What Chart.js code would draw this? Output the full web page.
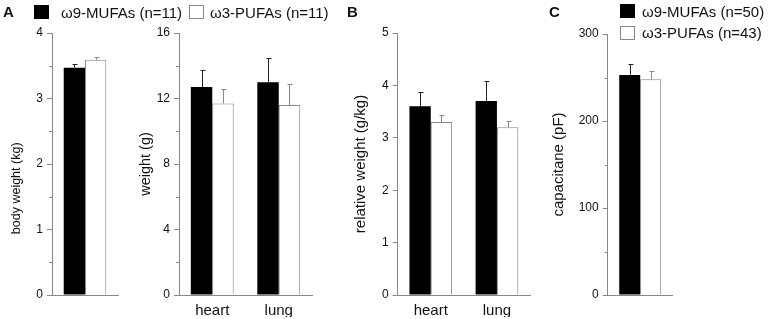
<!DOCTYPE html>
<html><head><meta charset="utf-8">
<script src="https://cdn.jsdelivr.net/npm/chart.js@4.4.0/dist/chart.umd.min.js"></script>
<style>
html,body{margin:0;padding:0;background:#fff;}
#wrap{position:relative;width:768px;height:319px;overflow:hidden;font-family:"Liberation Sans",Arial,Helvetica,sans-serif;color:#111;}
.pane{position:absolute;top:0;height:319px;}
.lbl{position:absolute;white-space:nowrap;font-size:15px;line-height:15px;}
.letter{position:absolute;font-weight:bold;font-size:15px;line-height:15px;}
.sw{position:absolute;width:15px;height:14px;box-sizing:border-box;}
</style></head><body>
<div id="wrap">
  <div class="pane" style="left:0;width:124px"><canvas id="cA1"></canvas></div>
  <div class="pane" style="left:128px;width:190px"><canvas id="cA2"></canvas></div>
  <div class="pane" style="left:340px;width:196px"><canvas id="cB"></canvas></div>
  <div class="pane" style="left:545px;width:132px"><canvas id="cC"></canvas></div>

  <div class="letter" style="left:3px;top:4px">A</div>
  <div class="sw" style="left:34px;top:5px;background:#000"></div>
  <div class="lbl" id="legA0" style="left:61px;top:5px"></div>
  <div class="sw" style="left:189px;top:5px;background:#fff;border:1px solid #888"></div>
  <div class="lbl" id="legA1" style="left:210px;top:5px"></div>
  <div class="letter" style="left:347px;top:4px">B</div>
  <div class="letter" style="left:549px;top:4px">C</div>
  <div class="sw" style="left:620px;top:4px;background:#000"></div>
  <div class="lbl" id="legC0" style="left:642px;top:4px"></div>
  <div class="sw" style="left:620px;top:26px;background:#fff;border:1px solid #888"></div>
  <div class="lbl" id="legC1" style="left:642px;top:25px"></div>
</div>
<script>
// ---------- data ----------
const legendLabelsA = ['ω9-MUFAs (n=11)', 'ω3-PUFAs (n=11)'];
const legendLabelsC = ['ω9-MUFAs (n=50)', 'ω3-PUFAs (n=43)'];

const bodyCategories = [''];
const bodyMUFA = [3.47];
const bodyMUFAErr = [0.05];
const bodyPUFA = [3.59];
const bodyPUFAErr = [0.04];
const bodyTicks = [0, 1, 2, 3, 4];

const organCategories = ['heart', 'lung'];
const weightMUFA = [12.7, 13.0];
const weightMUFAErr = [1.05, 1.45];
const weightPUFA = [11.7, 11.6];
const weightPUFAErr = [0.85, 1.3];
const weightTicks = [0, 4, 8, 12, 16];

const relMUFA = [3.6, 3.7];
const relMUFAErr = [0.27, 0.39];
const relPUFA = [3.3, 3.2];
const relPUFAErr = [0.13, 0.13];
const relTicks = [0, 1, 2, 3, 4, 5];

const capCategories = [''];
const capMUFA = [253];
const capMUFAErr = [12];
const capPUFA = [248];
const capPUFAErr = [9];
const capTicks = [0, 100, 200, 300];

document.getElementById('legA0').textContent = legendLabelsA[0];
document.getElementById('legA1').textContent = legendLabelsA[1];
document.getElementById('legC0').textContent = legendLabelsC[0];
document.getElementById('legC1').textContent = legendLabelsC[1];

// ---------- plugins ----------
const errorBars = {
  id: 'errorBars',
  afterDatasetsDraw(chart) {
    const ctx = chart.ctx, y = chart.scales.y;
    chart.data.datasets.forEach((ds, i) => {
      const meta = chart.getDatasetMeta(i);
      meta.data.forEach((bar, j) => {
        const v = ds.data[j], e = ds.errors[j];
        const yb = y.getPixelForValue(v);
        const yt = Math.round(y.getPixelForValue(v + e)) + 0.5;
        const x = Math.round(bar.x) + 0.5;
        ctx.save();
        ctx.strokeStyle = ds.errorColor;
        ctx.lineWidth = 1;
        ctx.beginPath();
        ctx.moveTo(x, yb); ctx.lineTo(x, yt);
        ctx.moveTo(x - 2, yt); ctx.lineTo(x + 3, yt);
        ctx.stroke();
        ctx.restore();
      });
    });
  }
};
const minorTicks = {
  id: 'minorTicks',
  afterDraw(chart, args, opts) {
    if (!opts || !opts.show) return;
    const s = chart.scales.y, ctx = chart.ctx;
    const vals = s.ticks.map(t => t.value);
    ctx.save();
    ctx.strokeStyle = '#888'; ctx.lineWidth = 1;
    ctx.beginPath();
    for (let k = 0; k < vals.length - 1; k++) {
      const yy = Math.round(s.getPixelForValue((vals[k] + vals[k + 1]) / 2)) + 0.5;
      ctx.moveTo(s.right - 3, yy); ctx.lineTo(s.right, yy);
    }
    ctx.stroke();
    ctx.restore();
  }
};

const FONT = '"Liberation Sans", Arial, Helvetica, sans-serif';

function makePanel(id, cfg) {
  const datasets = [
    { label: cfg.legend[0], data: cfg.mufa, errors: cfg.mufaErr, errorColor: '#222',
      backgroundColor: '#000', borderColor: '#000', borderWidth: 0 },
    { label: cfg.legend[1], data: cfg.pufa, errors: cfg.pufaErr, errorColor: '#888',
      backgroundColor: '#fff', borderColor: '#888', borderWidth: 1, borderSkipped: 'bottom' }
  ];
  return new Chart(document.getElementById(id), {
    type: 'bar',
    data: { labels: cfg.categories, datasets },
    plugins: [errorBars, minorTicks],
    options: {
      responsive: true, maintainAspectRatio: false, animation: false,
      layout: { autoPadding: false, padding: { left: 0, top: cfg.top, right: cfg.padRight, bottom: 2 } },
      datasets: { bar: { barPercentage: 1, categoryPercentage: 0.645 } },
      plugins: { legend: { display: false }, tooltip: { enabled: false },
                 minorTicks: { show: cfg.minor } },
      scales: {
        x: {
          type: 'category',
          afterFit: s => { s.height = 22; },
          grid: { display: false, drawTicks: false },
          border: { display: true, color: '#888', width: 1 },
          ticks: { display: cfg.showCats, color: '#111', padding: 7, font: { family: FONT, size: 15 } }
        },
        y: {
          min: 0, max: cfg.ticks[cfg.ticks.length - 1],
          afterBuildTicks: s => { s.ticks = cfg.ticks.map(v => ({ value: v })); },
          afterFit: s => { s.width = cfg.yWidth; },
          grid: { drawOnChartArea: false, drawTicks: true, tickLength: 5, color: '#888', lineWidth: 1 },
          border: { display: true, color: '#888', width: 1 },
          ticks: { color: '#111', padding: 4, autoSkip: false, font: { family: FONT, size: 12 } },
          title: { display: true, text: cfg.title, color: '#111',
                   font: { family: FONT, size: cfg.titleSize }, padding: { top: cfg.titlePad, bottom: 0 } }
        }
      }
    }
  });
}

const nb = '\u00a0'.repeat(14);
makePanel('cA1', { categories: bodyCategories, mufa: bodyMUFA, mufaErr: bodyMUFAErr, pufa: bodyPUFA, pufaErr: bodyPUFAErr,
  legend: legendLabelsA, ticks: bodyTicks, minor: true, showCats: false,
  top: 33, padRight: 6, yWidth: 52, title: 'body weight (kg)' + nb, titleSize: 12.5, titlePad: 9.5 });
makePanel('cA2', { categories: organCategories, mufa: weightMUFA, mufaErr: weightMUFAErr, pufa: weightPUFA, pufaErr: weightPUFAErr,
  legend: legendLabelsA, ticks: weightTicks, minor: true, showCats: true,
  top: 33, padRight: 6, yWidth: 51, title: 'weight (g)', titleSize: 14.5, titlePad: 8.8 });
makePanel('cB', { categories: organCategories, mufa: relMUFA, mufaErr: relMUFAErr, pufa: relPUFA, pufaErr: relPUFAErr,
  legend: legendLabelsA, ticks: relTicks, minor: false, showCats: true,
  top: 33, padRight: 6, yWidth: 57.7, title: 'relative weight (g/kg)', titleSize: 15, titlePad: 12 });
makePanel('cC', { categories: capCategories, mufa: capMUFA, mufaErr: capMUFAErr, pufa: capPUFA, pufaErr: capPUFAErr,
  legend: legendLabelsC, ticks: capTicks, minor: true, showCats: false,
  top: 34, padRight: 4.3, yWidth: 62.7, title: 'capacitane (pF)', titleSize: 15, titlePad: 5 });
</script>
</body></html>
